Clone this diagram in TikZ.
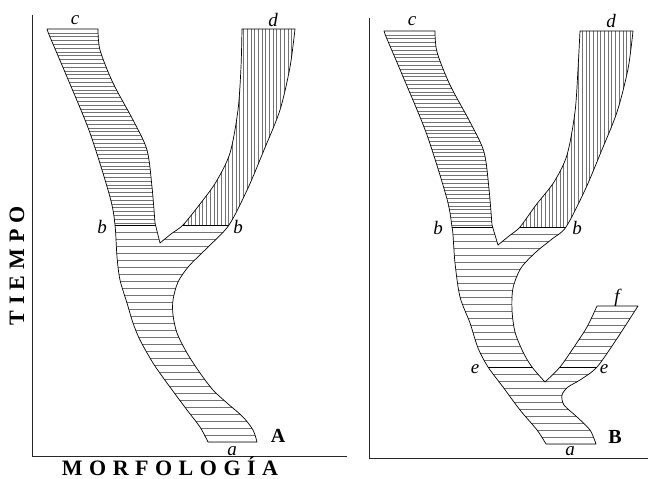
\documentclass[tikz,border=0pt]{standalone}
\usepackage{fontspec}
\setmainfont{Liberation Serif}
\begin{document}
\begin{tikzpicture}[x=1pt,y=-1pt,
  outline/.style={line width=0.7pt, line join=round},
  hatch/.style={line width=0.35pt, black!55},
  axisline/.style={line width=0.8pt, black!85},
  lbl/.style={font=\fontsize{19}{19}\selectfont\itshape, inner sep=0pt},
  panellbl/.style={font=\fontsize{20}{20}\selectfont\bfseries, inner sep=0pt},
  axislbl/.style={font=\fontsize{22}{22}\selectfont\bfseries, inner sep=0pt}]
\useasboundingbox (0,0) rectangle (648,479);

% ---------------- outlines ----------------
\def\outlineA{(47,29) -- (98,29) -- plot[smooth] coordinates {(98,29) (100,50) (113,83) (133,120) (147,150) (152,187) (155,223)} -- (160,243) -- plot[smooth] coordinates {(160,243) (171,234) (183,225) (200,204) (216,182) (230,153) (238,110) (241,67) (242,29)} -- (295,29) -- plot[smooth] coordinates {(295,29) (290,67) (280,110) (264,150) (248,188) (229,225) (207,248) (189,266) (178,282) (173,300) (173,315) (177,333) (187,353) (200,373) (213,390) (227,403) (243,417) (253,430) (257,442)} -- (208,442) -- plot[smooth] coordinates {(208,442) (200,427) (187,410) (167,383) (153,363) (140,340) (133,323) (127,303) (120,280) (117,257) (115,225) (110,197) (90,133) (67,77) (50,37) (47,29)} -- cycle}

\def\outlineB{(384,31) -- (435,31) -- plot[smooth] coordinates {(435,31) (437,52) (450,85) (470,122) (484,152) (489,189) (492,225)} -- (498,245) -- plot[smooth] coordinates {(498,245) (509,236) (520,227) (536,205) (554,182) (567,155) (575,112) (578,69) (580,31)} -- (633,31) -- plot[smooth] coordinates {(633,31) (628,69) (617,112) (601,152) (585,190) (566,227) (552,239) (536,252) (521,268) (513,288) (512,310) (515,332) (523,352) (532,367) (545,382)} -- plot[smooth] coordinates {(545,382) (560,367) (574,347) (587,327) (597,306)} -- (638,306) -- plot[smooth] coordinates {(638,306) (618,337) (597,367) (580,380) (568,387) (562,395) (564,405) (577,417) (590,430) (596,444)} -- (546,444) -- plot[smooth] coordinates {(546,444) (537,430) (520,410) (503,387) (488,367) (478,348) (470,323) (460,297) (455,263) (453,235) (452,227) (447,199) (427,135) (404,79) (387,39) (384,31)} -- cycle}

% ---------------- hatching A ----------------
\begin{scope}
  \clip \outlineA;
  \foreach \y in {32.8,36.6,...,225} \draw[hatch] (40,\y) -- (170,\y);
  \foreach \x in {173,176.7,...,300} \draw[hatch] (\x,25) -- (\x,225);
  \foreach \y in {232,239,...,446} \draw[hatch] (100,\y) -- (300,\y);
\end{scope}
\draw[outline] \outlineA;
\draw[outline] (115,225) -- (155.5,225);
\draw[outline] (183,225) -- (229,225);

% ---------------- hatching B ----------------
\begin{scope}
  \clip \outlineB;
  \foreach \y in {34.8,38.6,...,227} \draw[hatch] (375,\y) -- (505,\y);
  \foreach \x in {508,511.7,...,640} \draw[hatch] (\x,27) -- (\x,227);
  \foreach \y in {234,241,...,448} \draw[hatch] (440,\y) -- (645,\y);
\end{scope}
\draw[outline] \outlineB;
\draw[outline] (452,227) -- (492.6,227);
\draw[outline] (520,227) -- (566,227);
\draw[outline] (488,367) -- (532,367);
\draw[outline] (560,367) -- (597,367);

% ---------------- axes ----------------
\draw[axisline] (32,15) -- (32,456) -- (347,456);
\draw[axisline] (369,18) -- (369,458) -- (648,458);

% ---------------- labels A ----------------
\node[lbl] (Ac) at (75,20) {c};
\node[lbl] (Ad) at (273,20) {d};
\node[lbl] (Ab1) at (102,227) {b};
\node[lbl] (Ab2) at (238,227) {b};
\node[lbl] (Aa) at (232,451) {a};
\node[panellbl] (Alab) at (278,436) {A};

% ---------------- labels B ----------------
\node[lbl] (Bc) at (412,21) {c};
\node[lbl] (Bd) at (611,21) {d};
\node[lbl] (Bb1) at (438,228) {b};
\node[lbl] (Bb2) at (577,228) {b};
\node[lbl] (Be1) at (475,369) {e};
\node[lbl] (Be2) at (604,369) {e};
\node[lbl] (Bf) at (617,298) {f};
\node[lbl] (Ba) at (570,451) {a};
\node[panellbl] (Blab) at (615,437) {B};

% ---------------- axis titles ----------------
\node[axislbl, anchor=base] (morf) at (170,475) {M\hspace{6.5pt}O\hspace{6.5pt}R\hspace{6.5pt}F\hspace{6.5pt}O\hspace{6.5pt}L\hspace{6.5pt}O\hspace{6.5pt}G\hspace{6.5pt}Í\hspace{6.5pt}A};
\node[axislbl, rotate=90] (tiempo) at (17,266) {T\hspace{6pt}I\hspace{6pt}E\hspace{6pt}M\hspace{6pt}P\hspace{6pt}O};
\end{tikzpicture}
\end{document}
